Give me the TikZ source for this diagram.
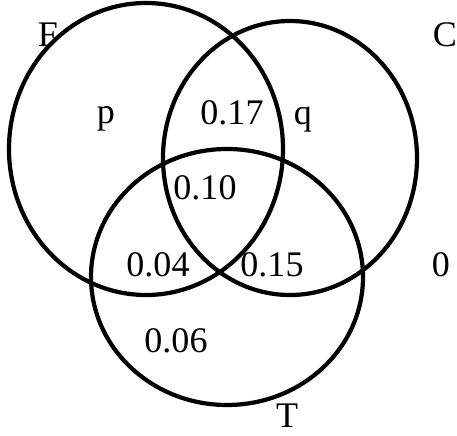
\documentclass[tikz,border=0pt]{standalone}
\usepackage{fontspec}
\setmainfont{Liberation Serif}
\usetikzlibrary{positioning}
\tikzset{
  setring/.style={line width=2.4pt,black},
  vlbl/.style={font=\fontsize{20.5}{24}\selectfont,inner sep=0pt,anchor=base},
}
\begin{document}
\begin{tikzpicture}[x=0.02cm,y=-0.02cm]
  \useasboundingbox (0,0) rectangle (457,436);
  % the three sets
  \draw[setring] (146,149) ellipse [x radius=137,y radius=146];
  \draw[setring] (290,158) ellipse [x radius=127,y radius=137];
  \draw[setring] (227,277) ellipse [x radius=136,y radius=128];
  % set names
  \node[vlbl] (nF) at (48,47) {F};
  \node[vlbl] (nC) at (445,47) {C};
  \node[vlbl] (nT) at (287,427) {T};
  % region values
  \node[vlbl] (rp) at (106,123) {p};
  \node[vlbl] (rFC) at (232,124) {0.17};
  \node[vlbl] (rq) at (303,124) {q};
  \node[vlbl] (rFCT) at (205,199) {0.10};
  \node[vlbl] (rFT) at (158,276) {0.04};
  \node[vlbl] (rCT) at (272,276) {0.15};
  \node[vlbl] (rout) at (441,276) {0};
  \node[vlbl] (rT) at (176,352) {0.06};
\end{tikzpicture}
\end{document}
